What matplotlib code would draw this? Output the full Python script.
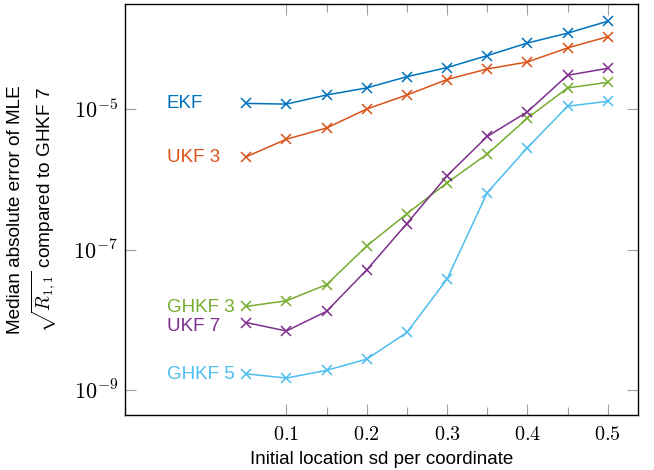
import matplotlib
matplotlib.use("Agg")
import matplotlib.pyplot as plt
import numpy as np

plt.rcParams["font.family"] = ["Liberation Sans", "DejaVu Sans"]
plt.rcParams["mathtext.fontset"] = "cm"

# initial location sd per coordinate
sd = [0.05, 0.1, 0.15, 0.2, 0.25, 0.3, 0.35, 0.4, 0.45, 0.5]

# log10 of median absolute error
ekf_log = [-4.92, -4.93, -4.80, -4.70, -4.54, -4.41, -4.24, -4.06, -3.92, -3.75]
ukf3_log = [-5.68, -5.43, -5.27, -5.00, -4.80, -4.58, -4.43, -4.33, -4.13, -3.97]
ghkf3_log = [-7.81, -7.73, -7.50, -6.95, -6.49, -6.05, -5.64, -5.13, -4.70, -4.62]
ukf7_log = [-8.04, -8.16, -7.88, -7.29, -6.63, -5.95, -5.39, -5.04, -4.52, -4.42]
ghkf5_log = [-8.77, -8.83, -8.72, -8.56, -8.18, -7.42, -6.19, -5.55, -4.96, -4.89]

names = ["EKF", "UKF 3", "GHKF 3", "UKF 7", "GHKF 5"]
colors = ["#0072BD", "#D95319", "#77AC30", "#7E2F8E", "#4DBEEE"]
# label heights (log10) just beside the first point
label_log = [-4.92, -5.69, -7.82, -8.09, -8.78]

fig = plt.figure(figsize=(6.54, 4.70), dpi=100)
ax = fig.add_axes([0.191, 0.117, 0.785, 0.8745])

series = [ekf_log, ukf3_log, ghkf3_log, ukf7_log, ghkf5_log]
for vals, c, name, ly in zip(series, colors, names, label_log):
    ax.plot(sd, 10 ** np.array(vals), color=c, marker="x", markersize=7,
            linewidth=1.1, markeredgewidth=1.1)
    ax.text(-0.049, 10 ** ly, name, color=c, fontsize=13.5, va="center", ha="left")

ax.set_yscale("log")
ax.set_xlim(-0.101, 0.538)
ax.set_ylim(10 ** -9.356, 10 ** -3.505)

ax.set_xticks([0.1, 0.2, 0.3, 0.4, 0.5])
ax.set_xticklabels([r"$0.1$", r"$0.2$", r"$0.3$", r"$0.4$", r"$0.5$"])
ax.set_xticks([0.15, 0.25, 0.35, 0.45], minor=True)
ax.set_yticks([1e-9, 1e-7, 1e-5])
ax.set_yticklabels([r"$10^{-9}$", r"$10^{-7}$", r"$10^{-5}$"], fontsize=16)
ax.yaxis.set_minor_locator(matplotlib.ticker.NullLocator())

ax.tick_params(which="both", direction="in", top=True, right=True,
               color="#a0a0a0", width=0.8)
ax.tick_params(axis="x", labelsize=14.5, pad=7)
ax.tick_params(axis="y", pad=5)
ax.tick_params(which="major", length=8)
ax.tick_params(which="minor", length=5.5)
for s in ax.spines.values():
    s.set_linewidth(1.0)

ax.set_xlabel("Initial location sd per coordinate", fontsize=13.5, labelpad=5)
ax.set_ylabel("Median absolute error of MLE\n" + r"$\sqrt{R_{1,1}}$ compared to GHKF 7",
              fontsize=13.7, linespacing=1.3, labelpad=10)

fig.savefig("out.png", dpi=100)
